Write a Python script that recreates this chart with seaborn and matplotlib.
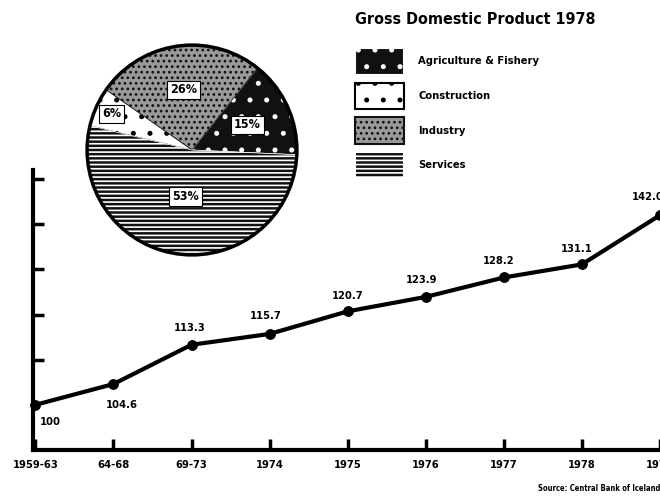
import numpy as np
import matplotlib
matplotlib.use('Agg')
from matplotlib import pyplot as plt
from matplotlib.patches import Patch, Circle
import seaborn as sns

# GDP volume index, 1959-63 = 100
periods = ['1959-63', '64-68', '69-73', '1974', '1975', '1976', '1977', '1978', '1979']
gdp_index = [100, 104.6, 113.3, 115.7, 120.7, 123.9, 128.2, 131.1, 142.0]
point_labels = ['100', '104.6', '113.3', '115.7', '120.7', '123.9', '128.2', '131.1', '142.0']

# GDP 1978 by sector (pie order)
sectors = ['Agriculture & Fishery', 'Industry', 'Construction', 'Services']
shares = [15, 26, 6, 53]
legend_order = ['Agriculture & Fishery', 'Construction', 'Industry', 'Services']

# label offsets (points) for the line labels
label_offsets = [(11, -12), (6, -15), (-1, 12), (-3, 13), (0, 11), (-3, 12), (-4, 12), (-4, 11), (-9, 13)]

sns.set_style('white')
plt.rcParams['font.family'] = ['DejaVu Sans']
plt.rcParams['font.stretch'] = 'condensed'
plt.rcParams['font.weight'] = 'bold'
plt.rcParams['text.color'] = 'black'
plt.rcParams['xtick.color'] = 'black'
plt.rcParams['ytick.color'] = 'black'
plt.rcParams['hatch.linewidth'] = 1.2

fig = plt.figure(figsize=(6.6, 4.99), dpi=100)

# line chart
ax = fig.add_axes([33 / 660, 1 - 450 / 499, 1 - 33 / 660, 280 / 499])
xs = list(range(len(periods)))
sns.lineplot(x=xs, y=gdp_index, ax=ax, color='black', linewidth=3,
             marker='o', markersize=7, markeredgecolor='black', clip_on=False)
for i, (v, lab) in enumerate(zip(gdp_index, point_labels)):
    ax.annotate(lab, (i, v), xytext=label_offsets[i], textcoords='offset points',
                ha='center', va='center', fontsize=8, fontweight='bold',
                fontstretch='condensed', annotation_clip=False)

ax.set_xlim(-0.03, 7.9)
ax.set_ylim(90, 152)
ax.set_xticks(xs)
ax.set_xticklabels(periods, fontsize=8, fontweight='bold', fontstretch='condensed')
ax.set_yticks([110, 120, 130, 140, 150])
ax.set_yticklabels([])
ax.tick_params(bottom=True, left=True, direction='in', length=8, width=2.5,
               color='black', pad=7)
for s in ['top', 'right']:
    ax.spines[s].set_visible(False)
for s in ['left', 'bottom']:
    ax.spines[s].set_linewidth(3)
    ax.spines[s].set_color('black')
ax.set_facecolor('none')

# pie chart
styles = {
    'Agriculture & Fishery': dict(facecolor='#111111', edgecolor='white', hatch='.'),
    'Construction': dict(facecolor='white', edgecolor='black', hatch='.'),
    'Industry': dict(facecolor='#9a9a9a', edgecolor='#111111', hatch='...'),
    'Services': dict(facecolor='#111111', edgecolor='white', hatch='----'),
}
pax = fig.add_axes([85 / 660, 1 - 257 / 499, 214 / 660, 214 / 499])
wedges, _ = pax.pie(shares, startangle=-2.6, counterclock=True,
                    colors=[styles[s]['facecolor'] for s in sectors])
for w, s in zip(wedges, sectors):
    w.set_hatch(styles[s]['hatch'])
    w.set_edgecolor(styles[s]['edgecolor'])
    w.set_linewidth(0.5)
pax.add_patch(Circle((0, 0), 1, fill=False, edgecolor='black', linewidth=2.5))
pax.set_xlim(-1.02, 1.02)
pax.set_ylim(-1.02, 1.02)
pax.set_aspect('equal')
pax.axis('off')

label_radius = [0.58, 0.58, 0.84, 0.45]
cum = np.cumsum([0] + shares)
for k, s in enumerate(sectors):
    mid = np.deg2rad(-2.6 + 3.6 * (cum[k] + cum[k + 1]) / 2)
    r = label_radius[k]
    pax.text(r * np.cos(mid), r * np.sin(mid), f'{shares[k]}%', ha='center', va='center',
             fontsize=9, fontweight='bold', fontstretch='condensed',
             bbox=dict(facecolor='white', edgecolor='black', linewidth=0.8, pad=2))

# legend
fig.text(355 / 660, 1 - 20 / 499, 'Gross Domestic Product 1978', ha='left', va='center',
         fontsize=11.5, fontweight='bold', fontstretch='condensed')
handles = [Patch(label=s, linewidth=1.5, **styles[s]) for s in legend_order]
leg = fig.legend(handles=handles, labels=legend_order, loc='upper left',
                 bbox_to_anchor=(345 / 660, 1 - 38 / 499), frameon=False,
                 prop={'weight': 'bold', 'size': 8, 'stretch': 'condensed'},
                 handlelength=4.4, handleheight=3.3, labelspacing=0.72, handletextpad=1.3)

fig.text(1.0, 0.022, 'Source: Central Bank of Iceland', ha='right', va='center',
         fontsize=5.5, fontweight='bold', fontstretch='condensed')

fig.savefig('out.png', dpi=100)
